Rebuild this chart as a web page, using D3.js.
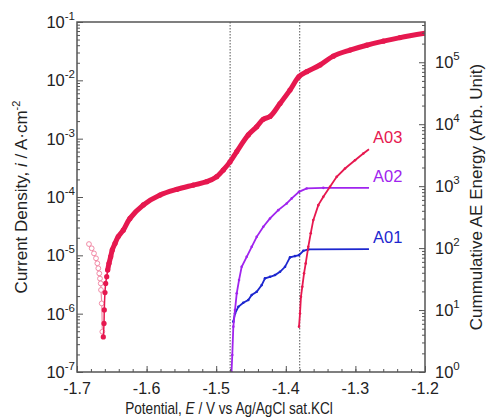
<!DOCTYPE html>
<html>
<head>
<meta charset="utf-8">
<script src="https://cdn.jsdelivr.net/npm/d3@7"></script>
<style>
  body { margin: 0; background: #fff; }
  svg { font-family: "Liberation Sans", Arial, sans-serif; }
</style>
</head>
<body>
<script>
// polarization curve, cathodic branch (open symbols) : E (V), i (A/cm2)
var cathE = [-1.6828, -1.6789, -1.6756, -1.6727, -1.6708, -1.6694, -1.6680, -1.6670, -1.6659, -1.6655, -1.6645, -1.6636];
var cathI = [1.56e-5, 1.32e-5, 1.08e-5, 8.9e-6, 7.3e-6, 6.0e-6, 4.9e-6, 4.0e-6, 3.3e-6, 2.55e-6, 1.5e-6, 4.9e-7];

// anodic branch (filled symbols)
var anodE = [-1.6622, -1.6612, -1.6608, -1.6598, -1.6588, -1.6573, -1.6559, -1.6540, -1.6516, -1.6493, -1.6454, -1.6407,
  -1.6335, -1.6239, -1.6047, -1.5807, -1.5567, -1.5329, -1.5136, -1.4993, -1.4898, -1.4802, -1.4705, -1.4539,
  -1.4418, -1.4323, -1.4227, -1.4083, -1.3940, -1.3810, -1.3699, -1.3509, -1.3317, -1.3078, -1.2838, -1.2599,
  -1.2359, -1.2];
var anodI = [4.0e-7, 6.8e-7, 1.16e-6, 2.3e-6, 3.3e-6, 4.3e-6, 5.6e-6, 7.3e-6, 9.5e-6, 1.24e-5, 1.6e-5, 2.1e-5,
  2.7e-5, 4.3e-5, 7.3e-5, 1.08e-4, 1.35e-4, 1.6e-4, 1.83e-4, 2.23e-4, 2.9e-4, 4.0e-4, 6.0e-4, 1.16e-3,
  1.6e-3, 2.15e-3, 2.4e-3, 4.0e-3, 6.8e-3, 1.16e-2, 1.41e-2, 1.83e-2, 2.6e-2, 3.3e-2, 4.0e-2, 4.7e-2,
  5.4e-2, 6.4e-2];

// cumulative AE energy (right axis)
var a01E = [-1.4754, -1.4730, -1.4682, -1.4611, -1.4539, -1.4490, -1.4418, -1.4346, -1.4299, -1.4227, -1.4155,
  -1.4083, -1.4011, -1.3940, -1.3868, -1.3810, -1.3748, -1.3677, -1.2805];
var a01V = [6.5, 8.8, 11.3, 13.1, 14.5, 17.5, 19.7, 25.3, 32.5, 34.4, 36.7, 41.5, 49.9, 70.8, 74.3, 77.1, 90.4, 95.3, 96.4];

var a02E = [-1.4780, -1.4769, -1.4754, -1.4730, -1.4705, -1.4672, -1.4634, -1.4562, -1.4490, -1.4418, -1.4323,
  -1.4227, -1.4108, -1.3987, -1.3915, -1.3810, -1.3700, -1.3461, -1.2805];
var a02V = [1.0, 1.88, 5.4, 10, 18.6, 30.5, 49.9, 72.4, 105, 152, 221, 301, 410, 526, 634, 809, 918, 939, 939];

var a03E = [-1.3810, -1.3796, -1.3782, -1.3763, -1.3738, -1.3714, -1.3677, -1.3642, -1.3605, -1.3533, -1.3461,
  -1.3365, -1.3269, -1.3149, -1.3006, -1.2886, -1.2805];
var a03V = [5.4, 8.8, 16.4, 23.8, 39.1, 56.6, 105, 173, 283, 494, 672, 974, 1413, 1928, 2626, 3366, 3951];

var seriesNames = ["A01", "A02", "A03"];
var guideE = [-1.48, -1.38];
var xTicks = [-1.7, -1.6, -1.5, -1.4, -1.3, -1.2];
var leftExp = [-7, -6, -5, -4, -3, -2, -1];
var rightExp = [0, 1, 2, 3, 4, 5];

var W = 486, H = 418;
var m = { l: 77, r: 425, t: 22, b: 372 };
var red = "#e6184f", pink = "#f28aa6", purple = "#a024ee", blue = "#1d27cf", ink = "#222";

var svg = d3.select("body").append("svg").attr("width", W).attr("height", H);

var x = d3.scaleLinear().domain([-1.7, -1.2]).range([m.l, m.r]);
var yL = d3.scaleLog().domain([1e-7, 1e-1]).range([m.b, m.t]);
var yR = d3.scaleLog().domain([1, Math.pow(10, 5.65)]).range([m.b, m.t]);

function zip(a, b) { return a.map(function(v, i) { return [v, b[i]]; }); }

// guide lines
svg.selectAll(".guide").data(guideE).enter().append("line")
  .attr("x1", function(d) { return x(d); }).attr("x2", function(d) { return x(d); })
  .attr("y1", m.t).attr("y2", m.b)
  .attr("stroke", "#555").attr("stroke-width", 1).attr("stroke-dasharray", "1.5,1.5");

svg.append("clipPath").attr("id", "clip").append("rect")
  .attr("x", m.l).attr("y", m.t).attr("width", m.r - m.l).attr("height", m.b - m.t);
var plot = svg.append("g").attr("clip-path", "url(#clip)");

var lineL = d3.line().curve(d3.curveCatmullRom)
  .x(function(d) { return x(d[0]); }).y(function(d) { return yL(d[1]); });
var lineR = d3.line()
  .x(function(d) { return x(d[0]); }).y(function(d) { return yR(d[1]); });

// cathodic open symbols
var cath = zip(cathE, cathI);
plot.append("path").attr("d", lineL(cath)).attr("fill", "none").attr("stroke", pink).attr("stroke-width", 1.2);
plot.selectAll(".cath").data(cath).enter().append("circle")
  .attr("cx", function(d) { return x(d[0]); }).attr("cy", function(d) { return yL(d[1]); })
  .attr("r", 2.4).attr("fill", "#fff").attr("stroke", pink).attr("stroke-width", 1);

// anodic filled symbols
var anod = zip(anodE, anodI);
plot.append("path").attr("d", lineL(anod)).attr("fill", "none").attr("stroke", red).attr("stroke-width", 1.5);
plot.append("path").attr("d", lineL(anod.filter(function(d) { return d[0] >= -1.656; })))
  .attr("fill", "none").attr("stroke", red).attr("stroke-width", 5)
  .attr("stroke-linejoin", "round").attr("stroke-linecap", "round");
plot.selectAll(".anod").data(anod).enter().append("circle")
  .attr("cx", function(d) { return x(d[0]); }).attr("cy", function(d) { return yL(d[1]); })
  .attr("r", 2.6).attr("fill", red);

// AE series
var aeSeries = [
  { name: seriesNames[0], pts: zip(a01E, a01V), color: blue },
  { name: seriesNames[1], pts: zip(a02E, a02V), color: purple },
  { name: seriesNames[2], pts: zip(a03E, a03V), color: red }
];
aeSeries.forEach(function(s) {
  plot.append("path").attr("d", lineR(s.pts)).attr("fill", "none")
    .attr("stroke", s.color).attr("stroke-width", 1.8);
  plot.selectAll(null).data(s.pts.slice(0, -1)).enter().append("circle")
    .attr("cx", function(d) { return x(d[0]); }).attr("cy", function(d) { return yR(d[1]); })
    .attr("r", 1.3).attr("fill", s.color);
  var last = s.pts[s.pts.length - 1];
  svg.append("text").attr("x", x(last[0]) + 4).attr("y", yR(last[1]) - 6)
    .attr("font-size", 16.5).attr("fill", s.color).text(s.name);
});

// frame
svg.append("rect").attr("x", m.l).attr("y", m.t).attr("width", m.r - m.l).attr("height", m.b - m.t)
  .attr("fill", "none").attr("stroke", "#555").attr("stroke-width", 1.5);

function minorLog(exps) {
  var out = [];
  exps.slice(0, -1).forEach(function(e) {
    for (var k = 2; k < 10; k++) out.push(k * Math.pow(10, e));
  });
  return out;
}
var rMinor = minorLog(rightExp.concat([6])).filter(function(v) { return v < Math.pow(10, 5.65); });

function styleAxis(g) {
  g.select(".domain").remove();
  g.selectAll("line").attr("stroke", "#555").attr("stroke-width", 1);
}

// bottom axis
svg.append("g").attr("transform", "translate(0," + m.b + ")")
  .call(d3.axisBottom(x).tickValues(xTicks).tickSize(-6).tickSizeOuter(0).tickFormat("")).call(styleAxis);
svg.append("g").attr("transform", "translate(0," + m.b + ")")
  .call(d3.axisBottom(x).tickValues(d3.range(-1.68, -1.2, 0.02)).tickSize(-3).tickSizeOuter(0).tickFormat("")).call(styleAxis);
svg.selectAll(".xl").data(xTicks).enter().append("text")
  .attr("x", function(d) { return x(d); }).attr("y", m.b + 22)
  .attr("text-anchor", "middle").attr("font-size", 16).attr("fill", ink)
  .text(function(d) { return d.toFixed(1); });

// left axis
svg.append("g").attr("transform", "translate(" + m.l + ",0)")
  .call(d3.axisLeft(yL).tickValues(leftExp.map(function(e) { return Math.pow(10, e); })).tickSize(-6).tickSizeOuter(0).tickFormat("")).call(styleAxis);
svg.append("g").attr("transform", "translate(" + m.l + ",0)")
  .call(d3.axisLeft(yL).tickValues(minorLog(leftExp)).tickSize(-3).tickSizeOuter(0).tickFormat("")).call(styleAxis);

// right axis
svg.append("g").attr("transform", "translate(" + m.r + ",0)")
  .call(d3.axisRight(yR).tickValues(rightExp.map(function(e) { return Math.pow(10, e); })).tickSize(-6).tickSizeOuter(0).tickFormat("")).call(styleAxis);
svg.append("g").attr("transform", "translate(" + m.r + ",0)")
  .call(d3.axisRight(yR).tickValues(rMinor).tickSize(-3).tickSizeOuter(0).tickFormat("")).call(styleAxis);

function powLabel(sel, e) {
  sel.append("tspan").text("10");
  sel.append("tspan").attr("dy", -8).attr("font-size", 11.5).text(String(e));
}
leftExp.forEach(function(e) {
  var t = svg.append("text").attr("x", m.l - 2).attr("y", yL(Math.pow(10, e)) + 6)
    .attr("text-anchor", "end").attr("font-size", 16.5).attr("fill", ink);
  powLabel(t, e);
});
rightExp.forEach(function(e) {
  var t = svg.append("text").attr("x", m.r + 10).attr("y", yR(Math.pow(10, e)) + 6)
    .attr("text-anchor", "start").attr("font-size", 16.5).attr("fill", ink);
  powLabel(t, e);
});

// axis titles
var xt = svg.append("text").attr("transform", "translate(229,414) scale(0.85,1)").attr("text-anchor", "middle")
  .attr("font-size", 16).attr("fill", ink);
xt.append("tspan").text("Potential, ");
xt.append("tspan").attr("font-style", "italic").text("E");
xt.append("tspan").text(" / V vs Ag/AgCl sat.KCl");

var yt = svg.append("text").attr("transform", "translate(27,197) rotate(-90)").attr("text-anchor", "middle")
  .attr("font-size", 17).attr("fill", ink);
yt.append("tspan").text("Current Density, ");
yt.append("tspan").attr("font-style", "italic").text("i");
yt.append("tspan").text(" / A\u00b7cm");
yt.append("tspan").attr("dy", -7).attr("font-size", 11).text("-2");

svg.append("text").attr("transform", "translate(482,197) rotate(-90)").attr("text-anchor", "middle")
  .attr("font-size", 17).attr("fill", ink).text("Cummulative AE Energy (Arb. Unit)");
</script>
</body>
</html>
